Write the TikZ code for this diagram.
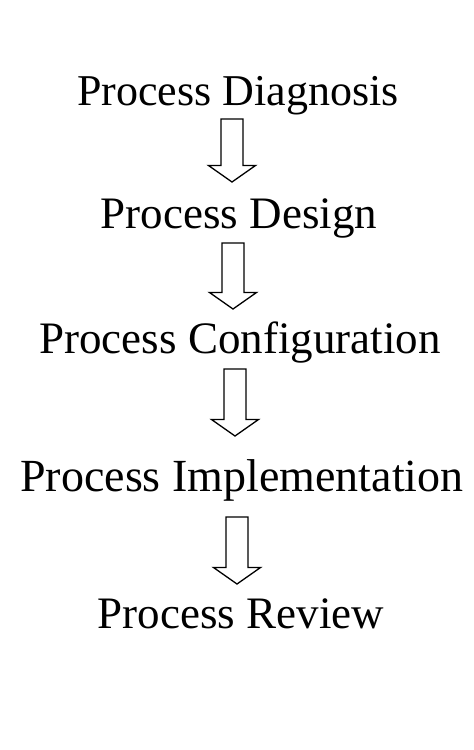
\documentclass[tikz,border=0pt]{standalone}
\usepackage{fontspec}
\setmainfont{Liberation Serif}
\usetikzlibrary{calc}

\begin{document}
\begin{tikzpicture}[
        x=1pt, y=1pt,
        stage/.style={inner sep=0pt, anchor=base, font=\fontsize{45}{48}\selectfont},
        fatarrow/.style={draw, line width=1.3pt, line join=miter, to path={
            let \p1=(\tikztostart), \p2=(\tikztotarget) in
            (\x1-11pt,\y1) -- (\x1-11pt,\y2+16.5pt) -- (\x1-23.5pt,\y2+16.5pt) -- (\x1,\y2)
            -- (\x1+23.5pt,\y2+16.5pt) -- (\x1+11pt,\y2+16.5pt) -- (\x1+11pt,\y1) -- cycle}}
    ]
    \useasboundingbox (0,0) rectangle (474,-750);

    % Stages
    \node[stage, font=\fontsize{44}{48}\selectfont] (diag) at (238,-105) {Process Diagnosis};
    \node[stage] (design) at (239,-228) {Process Design};
    \node[stage] (config) at (240,-353) {Process Configuration};
    \node[stage, font=\fontsize{46}{48}\selectfont] (impl) at (242,-491) {Process Implementation};
    \node[stage] (review) at (241,-628) {Process Review};

    % Arrows
    \draw[fatarrow] ([xshift=-6pt,yshift=-14pt]diag.base) to ([yshift=46pt]design.base);
    \draw[fatarrow] ([xshift=-6pt,yshift=-15pt]design.base) to ([yshift=44pt]config.base);
    \draw[fatarrow] ([xshift=-5pt,yshift=-16pt]config.base) to ([yshift=55pt]impl.base);
    \draw[fatarrow] ([xshift=-5pt,yshift=-26pt]impl.base) to ([yshift=44pt]review.base);

\end{tikzpicture}
\end{document}
